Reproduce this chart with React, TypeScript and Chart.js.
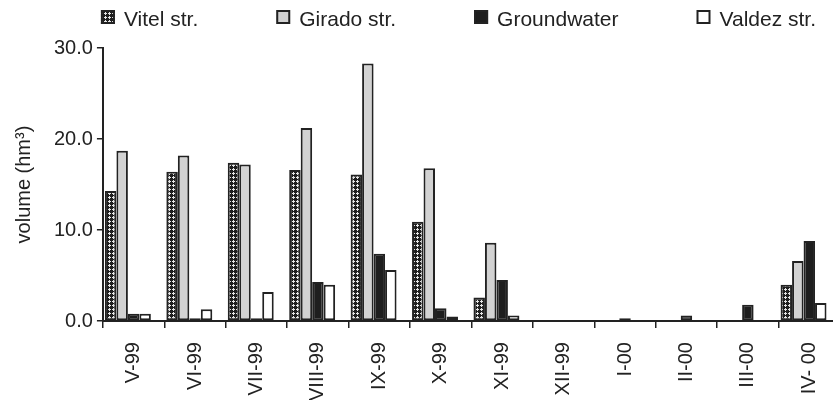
import React, { useEffect, useRef } from "react";
import { Chart, registerables } from "chart.js";

Chart.register(...registerables);

const categories = ["V-99", "VI-99", "VII-99", "VIII-99", "IX-99", "X-99", "XI-99", "XII-99", "I-00", "II-00", "III-00", "IV- 00"];
const vitel = [14.3, 16.4, 17.4, 16.6, 16.1, 10.9, 2.6, null, null, null, null, 4.0];
const girado = [18.7, 18.2, 17.2, 21.2, 28.3, 16.8, 8.6, null, null, null, null, 6.6];
const groundwater = [0.8, 0.3, 0.3, 4.3, 7.4, 1.4, 4.5, null, 0.3, 0.6, 1.8, 8.8];
const valdez = [0.8, 1.3, 3.2, 4.0, 5.6, 0.5, 0.6, null, null, null, null, 2.0];
const seriesLabels = ["Vitel str.", "Girado str.", "Groundwater", "Valdez str."];
const yTicks = [0, 10, 20, 30];

const FONT = '"Liberation Sans", Arial, sans-serif';
const INK = "#222222";

function makeCrossPattern(ctx: CanvasRenderingContext2D) {
  const c = document.createElement("canvas");
  c.width = 4;
  c.height = 4;
  const g = c.getContext("2d")!;
  g.fillStyle = "#1e1e1e";
  g.fillRect(0, 0, 4, 4);
  g.fillStyle = "#e6e6e6";
  g.fillRect(1, 0, 1, 3);
  g.fillRect(0, 1, 3, 1);
  return ctx.createPattern(c, "repeat")!;
}

const legendPlugin = {
  id: "customLegend",
  afterDraw(chart: any) {
    const ctx = chart.ctx as CanvasRenderingContext2D;
    ctx.save();
    ctx.font = `21px ${FONT}`;
    ctx.textBaseline = "alphabetic";
    const box = 14;
    const yTop = 10;
    let x = chart.chartArea.left - 2;
    chart.data.datasets.forEach((ds: any) => {
      if (!ds.label) return;
      ctx.fillStyle = ds.backgroundColor;
      ctx.fillRect(x, yTop, box, box);
      ctx.lineWidth = 2;
      ctx.strokeStyle = INK;
      ctx.strokeRect(x + 1, yTop + 1, box - 2, box - 2);
      ctx.fillStyle = INK;
      const tx = x + box + 9;
      ctx.fillText(ds.label, tx, 26);
      x = tx + ctx.measureText(ds.label).width + 78;
    });
    ctx.restore();
  },
};

export default function App() {
  const ref = useRef<HTMLCanvasElement | null>(null);

  useEffect(() => {
    const canvas = ref.current!;
    const ctx = canvas.getContext("2d")!;
    const cross = makeCrossPattern(ctx);
    const common = {
      borderColor: INK,
      borderWidth: 2,
      borderSkipped: false,
      categoryPercentage: 0.935,
      barPercentage: 1,
    };
    const chart = new Chart(ctx, {
      type: "bar",
      data: {
        labels: categories,
        datasets: [
          { ...common, label: seriesLabels[0], data: vitel, backgroundColor: cross },
          { ...common, label: seriesLabels[1], data: girado, backgroundColor: "#d2d2d2" },
          { ...common, label: seriesLabels[2], data: groundwater, backgroundColor: "#1e1e1e" },
          { ...common, label: seriesLabels[3], data: valdez, backgroundColor: "#ffffff" },
          { ...common, label: "", data: categories.map(() => null), backgroundColor: "rgba(0,0,0,0)", borderWidth: 0 },
        ],
      } as any,
      options: {
        animation: false,
        responsive: false,
        maintainAspectRatio: false,
        layout: { padding: { left: 12, top: 48, right: 30, bottom: 3 } },
        plugins: { legend: { display: false }, tooltip: { enabled: false } },
        scales: {
          x: {
            type: "category",
            offset: true,
            grid: {
              display: true,
              drawOnChartArea: false,
              drawTicks: true,
              tickLength: 7,
              color: INK,
              lineWidth: 1.5,
              offset: true,
            },
            border: { display: true, color: INK, width: 2 },
            ticks: {
              minRotation: 90,
              maxRotation: 90,
              autoSkip: false,
              padding: 14,
              color: INK,
              font: { family: FONT, size: 20 },
            },
          },
          y: {
            min: yTicks[0],
            max: yTicks[yTicks.length - 1],
            afterBuildTicks: (scale: any) => {
              scale.ticks = yTicks.map((v) => ({ value: v }));
            },
            ticks: {
              stepSize: 10,
              padding: 4,
              color: INK,
              font: { family: FONT, size: 20 },
              callback: (v: any) => Number(v).toFixed(1),
            },
            grid: {
              display: true,
              drawOnChartArea: false,
              drawTicks: true,
              tickLength: 6,
              color: INK,
              lineWidth: 1.5,
            },
            border: { display: true, color: INK, width: 2 },
            title: {
              display: true,
              text: "volume (hm³)",
              color: INK,
              font: { family: FONT, size: 20 },
              padding: { top: 0, bottom: 14 },
            },
          },
        },
      } as any,
      plugins: [legendPlugin],
    });
    return () => chart.destroy();
  }, []);

  return (
    <div style={{ position: "fixed", left: 0, top: 0, width: 833, height: 400, overflow: "hidden", background: "#fff" }}>
      <canvas ref={ref} width={870} height={418} style={{ width: 870, height: 418, display: "block" }} />
    </div>
  );
}
